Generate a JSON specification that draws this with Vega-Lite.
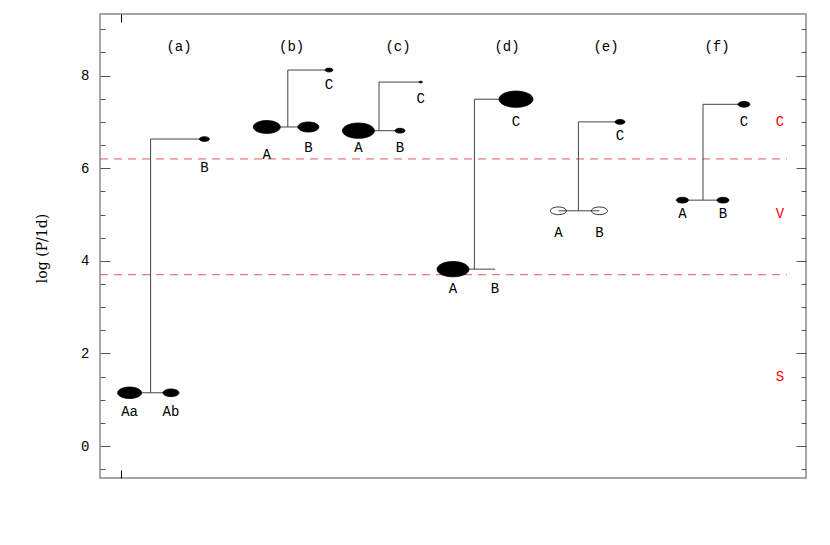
{
  "$schema": "https://vega.github.io/schema/vega-lite/v6.json",
  "width": 706,
  "height": 464,
  "autosize": "none",
  "padding": {"left": 100, "top": 14, "right": 24, "bottom": 67},
  "background": "white",
  "config": {
    "view": {"stroke": "#8a8a8a", "strokeWidth": 1.5},
    "axis": {"grid": false, "domain": false}
  },
  "datasets": {
    "limits": [
      {"y": 6.2, "x": -1.05, "x2": 33.3},
      {"y": 3.7, "x": -1.05, "x2": 33.3}
    ],
    "segments": [
      {"x": 0.43, "x2": 2.5, "y": 1.15, "y2": 1.15},
      {"x": 1.48, "x2": 1.48, "y": 1.15, "y2": 6.63},
      {"x": 1.48, "x2": 4.17, "y": 6.63, "y2": 6.63},
      {"x": 7.29, "x2": 9.37, "y": 6.89, "y2": 6.89},
      {"x": 8.34, "x2": 8.34, "y": 6.89, "y2": 8.12},
      {"x": 8.34, "x2": 10.4, "y": 8.12, "y2": 8.12},
      {"x": 11.87, "x2": 13.95, "y": 6.81, "y2": 6.81},
      {"x": 12.9, "x2": 12.9, "y": 6.81, "y2": 7.86},
      {"x": 12.9, "x2": 14.99, "y": 7.86, "y2": 7.86},
      {"x": 16.6, "x2": 18.7, "y": 3.82, "y2": 3.82},
      {"x": 17.67, "x2": 17.67, "y": 3.82, "y2": 7.49},
      {"x": 17.67, "x2": 19.75, "y": 7.49, "y2": 7.49},
      {"x": 21.87, "x2": 23.92, "y": 5.08, "y2": 5.08},
      {"x": 22.87, "x2": 22.87, "y": 5.08, "y2": 7.0},
      {"x": 22.87, "x2": 24.95, "y": 7.0, "y2": 7.0},
      {"x": 28.07, "x2": 30.1, "y": 5.31, "y2": 5.31},
      {"x": 29.1, "x2": 29.1, "y": 5.31, "y2": 7.38},
      {"x": 29.1, "x2": 31.15, "y": 7.38, "y2": 7.38}
    ],
    "stars": [
      {"sys": "a", "comp": "Aa", "x": 0.43, "y": 1.15, "d": 24, "fill": "solid"},
      {"sys": "a", "comp": "Ab", "x": 2.5, "y": 1.15, "d": 16, "fill": "solid"},
      {"sys": "a", "comp": "B", "x": 4.17, "y": 6.63, "d": 10, "fill": "solid"},
      {"sys": "b", "comp": "A", "x": 7.29, "y": 6.89, "d": 27, "fill": "solid"},
      {"sys": "b", "comp": "B", "x": 9.37, "y": 6.89, "d": 21, "fill": "solid"},
      {"sys": "b", "comp": "C", "x": 10.4, "y": 8.12, "d": 8, "fill": "solid"},
      {"sys": "c", "comp": "A", "x": 11.87, "y": 6.81, "d": 32, "fill": "solid"},
      {"sys": "c", "comp": "B", "x": 13.95, "y": 6.81, "d": 10, "fill": "solid"},
      {"sys": "c", "comp": "C", "x": 14.99, "y": 7.86, "d": 3.5, "fill": "solid"},
      {"sys": "d", "comp": "A", "x": 16.6, "y": 3.82, "d": 32, "fill": "solid"},
      {"sys": "d", "comp": "C", "x": 19.75, "y": 7.49, "d": 34, "fill": "solid"},
      {"sys": "e", "comp": "A", "x": 21.87, "y": 5.08, "d": 16, "fill": "open"},
      {"sys": "e", "comp": "B", "x": 23.92, "y": 5.08, "d": 16, "fill": "open"},
      {"sys": "e", "comp": "C", "x": 24.95, "y": 7.0, "d": 10, "fill": "solid"},
      {"sys": "f", "comp": "A", "x": 28.07, "y": 5.31, "d": 12, "fill": "solid"},
      {"sys": "f", "comp": "B", "x": 30.1, "y": 5.31, "d": 12, "fill": "solid"},
      {"sys": "f", "comp": "C", "x": 31.15, "y": 7.38, "d": 12, "fill": "solid"}
    ],
    "labels": [
      {"t": "(a)", "x": 2.9, "y": 8.62},
      {"t": "(b)", "x": 8.53, "y": 8.62},
      {"t": "(c)", "x": 13.85, "y": 8.62},
      {"t": "(d)", "x": 19.3, "y": 8.62},
      {"t": "(e)", "x": 24.25, "y": 8.62},
      {"t": "(f)", "x": 29.8, "y": 8.62},
      {"t": "Aa", "x": 0.43, "y": 0.74},
      {"t": "Ab", "x": 2.5, "y": 0.74},
      {"t": "B", "x": 4.17, "y": 6.0},
      {"t": "A", "x": 7.29, "y": 6.28},
      {"t": "B", "x": 9.37, "y": 6.44},
      {"t": "C", "x": 10.4, "y": 7.8},
      {"t": "A", "x": 11.87, "y": 6.44},
      {"t": "B", "x": 13.95, "y": 6.44},
      {"t": "C", "x": 14.99, "y": 7.49},
      {"t": "A", "x": 16.6, "y": 3.39},
      {"t": "B", "x": 18.7, "y": 3.39},
      {"t": "C", "x": 19.75, "y": 7.0},
      {"t": "A", "x": 21.87, "y": 4.59},
      {"t": "B", "x": 23.92, "y": 4.59},
      {"t": "C", "x": 24.95, "y": 6.7},
      {"t": "A", "x": 28.07, "y": 5.01},
      {"t": "B", "x": 30.1, "y": 5.01},
      {"t": "C", "x": 31.15, "y": 7.0}
    ],
    "classes": [
      {"t": "C", "x": 32.95, "y": 7.0},
      {"t": "V", "x": 32.95, "y": 5.01},
      {"t": "S", "x": 32.95, "y": 1.5}
    ]
  },
  "layer": [
    {
      "data": {"name": "limits"},
      "mark": {"type": "rule", "color": "#e05a5a", "strokeDash": [8, 6], "strokeWidth": 1},
      "encoding": {
        "y": {
          "field": "y", "type": "quantitative",
          "scale": {"domain": [-0.69, 9.33], "nice": false, "zero": false},
          "axis": {
            "orient": "left",
            "values": [-0.5, 0, 0.5, 1, 1.5, 2, 2.5, 3, 3.5, 4, 4.5, 5, 5.5, 6, 6.5, 7, 7.5, 8, 8.5, 9],
            "tickSize": {"condition": {"test": "datum.value % 2 === 0", "value": -10}, "value": -5},
            "tickColor": "#555",
            "tickWidth": 1,
            "labelExpr": "datum.value % 2 === 0 ? '' + datum.value : ''",
            "labelFont": "Liberation Mono",
            "labelFontSize": 14,
            "labelColor": "black",
            "labelPadding": 21,
            "title": "log (P/1d)",
            "titleFont": "DejaVu Serif",
            "titleFontSize": 14,
            "titleFontWeight": "normal",
            "titleColor": "black",
            "titleAngle": 270,
            "titleAlign": "center",
            "titleBaseline": "middle",
            "titleX": -58,
            "titleY": 234
          }
        },
        "x": {
          "field": "x", "type": "quantitative",
          "scale": {"domain": [-1.05, 34.25], "nice": false, "zero": false},
          "axis": {"orient": "bottom", "values": [0], "tickSize": -8, "tickColor": "black", "labels": false, "title": null}
        },
        "x2": {"field": "x2"}
      }
    },
    {
      "data": {"name": "segments"},
      "mark": {"type": "rule", "color": "#444", "strokeWidth": 1},
      "encoding": {
        "y": {
          "field": "y", "type": "quantitative",
          "axis": {
            "orient": "right",
            "values": [-0.5, 0, 0.5, 1, 1.5, 2, 2.5, 3, 3.5, 4, 4.5, 5, 5.5, 6, 6.5, 7, 7.5, 8, 8.5, 9],
            "tickSize": {"condition": {"test": "datum.value % 2 === 0", "value": -10}, "value": -5},
            "tickColor": "#555",
            "tickWidth": 1,
            "labels": false,
            "title": null
          }
        },
        "y2": {"field": "y2"},
        "x": {
          "field": "x", "type": "quantitative",
          "axis": {"orient": "top", "values": [0], "tickSize": -8, "tickColor": "black", "labels": false, "title": null}
        },
        "x2": {"field": "x2"}
      }
    },
    {
      "data": {"name": "stars"},
      "mark": {
        "type": "point",
        "shape": "M-1,0A1,0.48,0,1,0,1,0A1,0.48,0,1,0,-1,0Z",
        "filled": true,
        "color": "black",
        "stroke": "black",
        "strokeWidth": 0.8,
        "opacity": 1
      },
      "encoding": {
        "x": {"field": "x", "type": "quantitative", "axis": null},
        "y": {"field": "y", "type": "quantitative", "axis": null},
        "size": {"field": "d", "type": "quantitative", "scale": {"type": "pow", "exponent": 2, "domain": [0, 40], "range": [0, 1600]}, "legend": null},
        "fillOpacity": {"field": "fill", "type": "nominal", "scale": {"domain": ["solid", "open"], "range": [1, 0]}, "legend": null}
      }
    },
    {
      "data": {"name": "labels"},
      "mark": {"type": "text", "font": "Liberation Mono", "fontSize": 14, "color": "black", "align": "center", "baseline": "middle"},
      "encoding": {
        "x": {"field": "x", "type": "quantitative", "axis": null},
        "y": {"field": "y", "type": "quantitative", "axis": null},
        "text": {"field": "t"}
      }
    },
    {
      "data": {"name": "classes"},
      "mark": {"type": "text", "font": "Liberation Mono", "fontSize": 14, "color": "red", "align": "center", "baseline": "middle"},
      "encoding": {
        "x": {"field": "x", "type": "quantitative", "axis": null},
        "y": {"field": "y", "type": "quantitative", "axis": null},
        "text": {"field": "t"}
      }
    }
  ],
  "resolve": {"axis": {"x": "independent", "y": "independent"}}
}
